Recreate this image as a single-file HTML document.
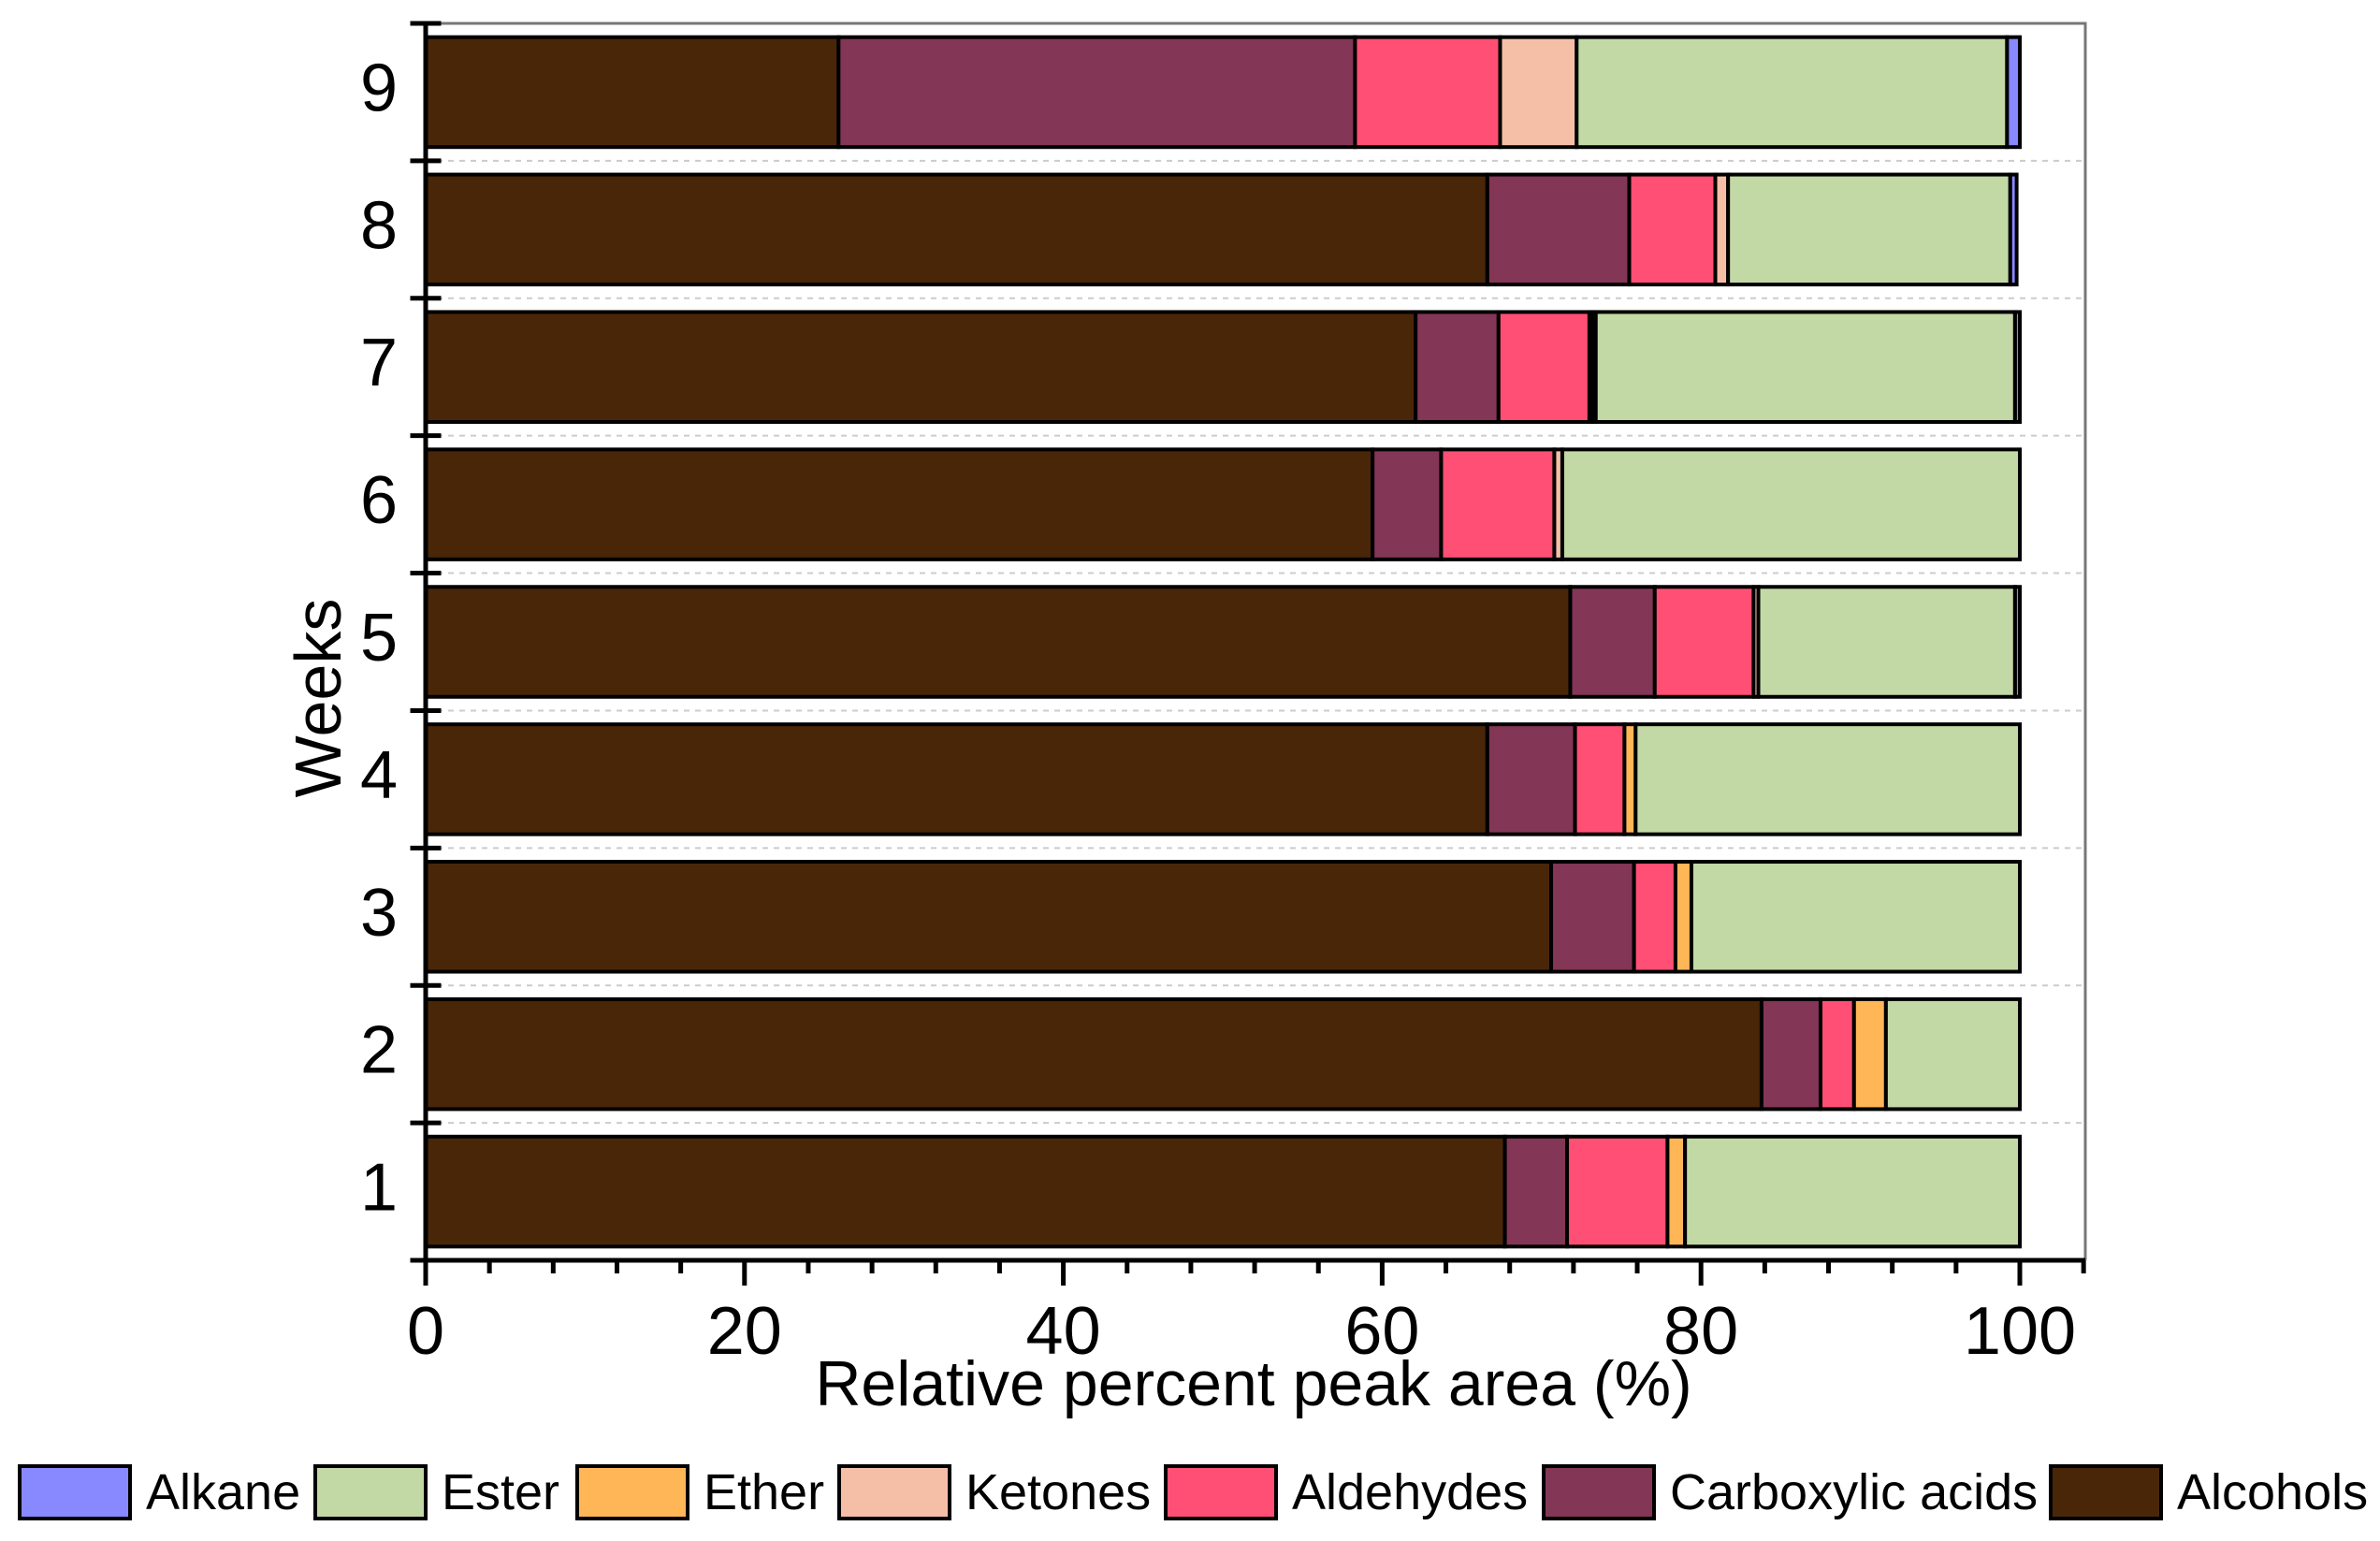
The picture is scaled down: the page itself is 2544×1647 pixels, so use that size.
<!DOCTYPE html>
<html><head><meta charset="utf-8"><style>
html,body{margin:0;padding:0;background:#fff}
svg{display:block;font-family:"Liberation Sans",Arial,sans-serif}
</style></head><body>
<svg id="chart" width="2544" height="1647" viewBox="0 0 2544 1647" xmlns="http://www.w3.org/2000/svg">
<g id="grid"></g>
<g id="bars"></g>
<g id="axes"></g>
<text x="1340" y="1502" font-size="68" text-anchor="middle">Relative percent peak area (%)</text>
<text transform="translate(364,746) rotate(-90)" font-size="70" text-anchor="middle">Weeks</text>
<g id="legend"></g>
</svg>
<script>
const weeks = ["1","2","3","4","5","6","7","8","9"];
const seriesNames = ["Alcohols","Carboxylic acids","Aldehydes","Ketones","Ether","Ester","Alkane"];
const alcohols   = [67.7, 83.8, 70.6, 66.6, 71.8, 59.4, 62.1, 66.6, 25.9];
const carboxylic = [3.9, 3.7, 5.2, 5.5, 5.3, 4.3, 5.2, 8.9, 32.4];
const aldehydes  = [6.3, 2.1, 2.6, 3.1, 6.2, 7.1, 5.7, 5.4, 9.1];
const ketones    = [0, 0, 0, 0, 0.3, 0.5, 0.2, 0.8, 4.8];
const ether      = [1.1, 2.0, 1.0, 0.7, 0, 0, 0.2, 0, 0];
const ester      = [21.0, 8.4, 20.6, 24.1, 16.1, 28.7, 26.3, 17.7, 27.0];
const alkane     = [0, 0, 0, 0, 0.3, 0, 0.3, 0.4, 0.8];
const xTicks = [0, 20, 40, 60, 80, 100];
const colors = ["#4a2608","#833655","#ff4f74","#f5bfa7","#ffb657","#c2d9a6","#8888ff"];

const NS = "http://www.w3.org/2000/svg";
const X0 = 455, XPU = 17.04, YTOP = 25, YBOT = 1347, FRAMEX = 2229;
const band = (YBOT - YTOP) / weeks.length;
const xs = v => X0 + v * XPU;
const yc = i => YBOT - (i + 0.5) * band;
function mk(tag, attrs, parent) {
  const e = document.createElementNS(NS, tag);
  for (const k in attrs) e.setAttribute(k, attrs[k]);
  parent.appendChild(e);
  return e;
}
const grid = document.getElementById("grid");
const bars = document.getElementById("bars");
const axes = document.getElementById("axes");
const legend = document.getElementById("legend");

let fr = mk("path", {d:`M${X0} ${YTOP} H${FRAMEX} V${YBOT}`, fill:"none", stroke:"#777", "stroke-width":3}, axes);


for (let i = 1; i < weeks.length; i++) {
  const y = YBOT - i * band;
  const g = mk("line", {x1:X0, x2:FRAMEX, y1:y, y2:y, stroke:"#ccc", "stroke-width":2, "stroke-dasharray":"6 6"}, grid);
  
  
}
const series = [alcohols, carboxylic, aldehydes, ketones, ether, ester, alkane];
const bh = band * 0.8;
weeks.forEach((w, i) => {
  let acc = 0;
  series.forEach((s, k) => {
    const v = s[i];
    if (v > 0) {
      const r = mk("rect", {x:xs(acc), y:yc(i) - bh/2, width:v * XPU, height:bh, fill:colors[k], stroke:"#000", "stroke-width":4}, bars);
      
      
    }
    acc += v;
  });
  const t = mk("text", {x:405, y:yc(i) + 20, "font-size":72, "text-anchor":"middle"}, axes);
  t.textContent = w;
  
  
});
let ya = mk("line", {x1:X0, x2:X0, y1:YTOP, y2:YBOT, stroke:"#000", "stroke-width":5}, axes);


let xa = mk("line", {x1:X0 - 14, x2:FRAMEX, y1:YBOT, y2:YBOT, stroke:"#000", "stroke-width":5}, axes);


for (let i = 0; i <= weeks.length; i++) {
  const y = YBOT - i * band;
  const t = mk("line", {x1:X0 - 14, x2:X0 + 14, y1:y, y2:y, stroke:"#000", "stroke-width":5, "stroke-linecap":"square"}, axes);
  
  
}
for (let v = 0; v <= 104; v += 4) {
  const major = v % 20 === 0;
  const t = mk("line", {x1:xs(v), x2:xs(v), y1:YBOT, y2:YBOT + (major ? 27 : 14), stroke:"#000", "stroke-width":5}, axes);
  
  
}
xTicks.forEach(v => {
  const t = mk("text", {x:xs(v), y:1447, "font-size":72, "text-anchor":"middle"}, axes);
  t.textContent = v;
  
  
});
const legendOrder = [6,5,4,3,2,1,0];
const boxX = [21, 337, 617, 897, 1246, 1650, 2192];
legendOrder.forEach((k, j) => {
  const bx = boxX[j];
  const r = mk("rect", {x:bx, y:1567, width:118, height:56, fill:colors[k], stroke:"#000", "stroke-width":4}, legend);
  
  
  const t = mk("text", {x:bx + 135, y:1613, "font-size":54}, legend);
  t.textContent = seriesNames[k];
  
  
});
</script>
</body></html>
